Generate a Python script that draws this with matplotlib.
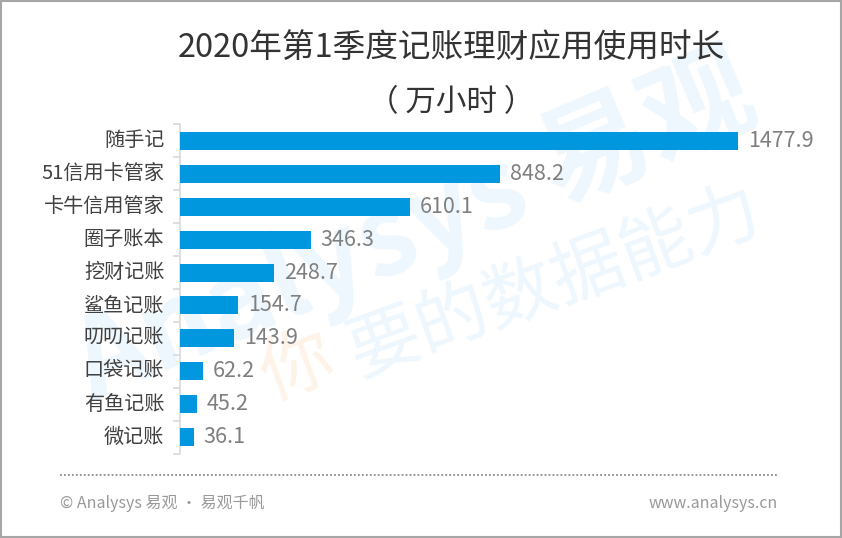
import matplotlib.pyplot as plt
import numpy as np
from matplotlib.patches import Rectangle
from matplotlib.lines import Line2D

plt.rcParams['font.family'] = ['Noto Sans CJK SC', 'DejaVu Sans']

apps = ["随手记", "51信用卡管家", "卡牛信用管家", "圈子账本", "挖财记账",
        "鲨鱼记账", "叨叨记账", "口袋记账", "有鱼记账", "微记账"]
horas = [1477.9, 848.2, 610.1, 346.3, 248.7, 154.7, 143.9, 62.2, 45.2, 36.1]

titulo = "2020年第1季度记账理财应用使用时长"
subtitulo = "（ 万小时 ）"
fuente_izq = "© Analysys 易观 · 易观千帆"
fuente_der = "www.analysys.cn"

W, H = 842, 538
fig = plt.figure(figsize=(W / 100, H / 100), dpi=100)

# marco gris
fig.add_artist(Rectangle((0.0012, 0.0019), 0.9976, 0.9962, transform=fig.transFigure,
                         fill=False, edgecolor='#a6a6a6', linewidth=1.5))

# marca de agua (detras de todo)
fig.text(415 / W, 1 - 230 / H, "Analysys 易观", rotation=23, fontsize=80, fontweight='bold',
         color='#eef7fd', ha='center', va='center', zorder=-5)
fig.text(298 / W, 1 - 368 / H, "你", rotation=20, fontsize=52,
         color='#fdf3e8', ha='center', va='center', zorder=-5)
fig.text(555 / W, 1 - 283 / H, "要的数据能力", rotation=20, fontsize=52,
         color='#eef7fd', ha='center', va='center', zorder=-5)

# ejes: barra arranca en x=180, 1477.9 -> x=738
x0, x1 = 180, 784
y_top, y_bot = 124.5, 453.5
ax = fig.add_axes([x0 / W, 1 - y_bot / H, (x1 - x0) / W, (y_bot - y_top) / H])
ax.patch.set_alpha(0)
ax.set_zorder(2)
xmax = 1477.9 * (x1 - x0) / (738 - x0)
ax.set_xlim(0, xmax)
y = np.arange(len(apps))
ax.set_ylim(len(apps) - 0.5, -0.5)

ax.barh(y, horas, height=0.55, color='#0097de', zorder=3)
for yi, v in zip(y, horas):
    ax.annotate(f"{v:.1f}", (v, yi), xytext=(7, 0), textcoords='offset points',
                va='center', ha='left', fontsize=15.5, color='#7f7f7f', clip_on=False)

for s in ['top', 'right', 'bottom']:
    ax.spines[s].set_visible(False)
ax.spines['left'].set_color('#d9d9d9')
ax.spines['left'].set_linewidth(1.2)
ax.set_xticks([])
ax.set_yticks(np.arange(len(apps) + 1) - 0.5)
ax.set_yticklabels([])
ax.tick_params(axis='y', length=5, color='#d9d9d9', width=1.2)
for yi, nombre in zip(y, apps):
    ax.text(-0.026, yi, nombre, transform=ax.get_yaxis_transform(), ha='right', va='center',
            fontsize=14.5, color='#404040')

# titulo
fig.text(451 / W, 1 - 48 / H, titulo, ha='center', va='center', fontsize=23.5,
         color='#333333')
fig.text(451 / W, 1 - 103 / H, subtitulo, ha='center', va='center', fontsize=22,
         color='#333333')

# pie
fig.add_artist(Line2D([60 / W, 778 / W], [1 - 475 / H, 1 - 475 / H], transform=fig.transFigure,
                      color='#8c8c8c', linestyle=(0, (1, 1.2)), linewidth=1.3))
fig.text(60 / W, 1 - 503 / H, fuente_izq, ha='left', va='center', fontsize=11.5, color='#999999')
fig.text(778 / W, 1 - 503 / H, fuente_der, ha='right', va='center', fontsize=11.5, color='#999999')

fig.savefig("out.png", dpi=100)
